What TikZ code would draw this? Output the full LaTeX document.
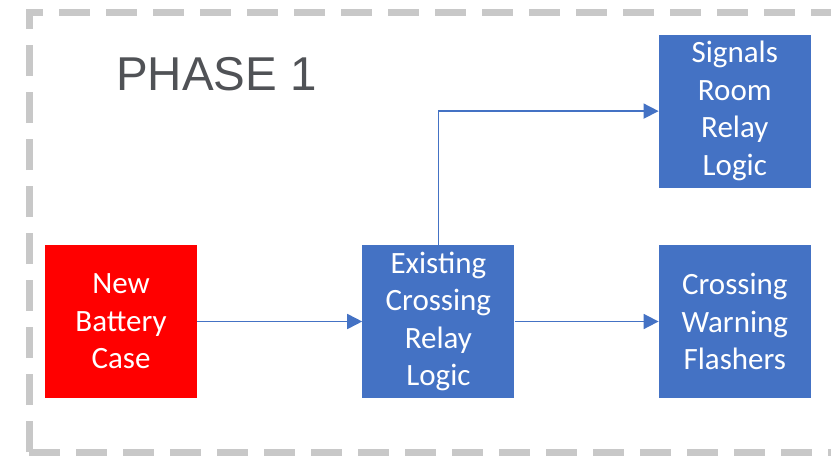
\documentclass[tikz,border=0pt]{standalone}
\usepackage{fontspec}
\setmainfont{Carlito}
\newfontfamily\phasefont{Liberation Sans}
\usepackage{xcolor}
\definecolor{relayblue}{RGB}{68,114,196}
\definecolor{batteryred}{RGB}{255,0,0}
\definecolor{phasegray}{RGB}{200,200,200}
\definecolor{phasetext}{RGB}{80,82,86}
\usetikzlibrary{arrows.meta, positioning}

\begin{document}
\begin{tikzpicture}[x=1pt, y=-1pt,
  logicbox/.style={rectangle, fill=relayblue, text=white, minimum width=152pt,
               minimum height=153pt, text width=140pt, align=center, inner sep=0pt,
               font=\fontsize{31}{37.5}\selectfont},
  arr/.style={-{Triangle[length=15pt,width=15pt]}, line width=1.7pt, relayblue}
]
\useasboundingbox (0,0) rectangle (831,461);
\clip (0,0) rectangle (831,461);
% phase frame
\draw[phasegray, line width=7pt, dash pattern=on 31pt off 16pt] (29,452) -- (29,12) -- (860,12);
\draw[phasegray, line width=7pt, dash pattern=on 31pt off 16pt] (29,452) -- (860,452);
\node[anchor=base west, inner sep=0pt, text=phasetext, font=\phasefont\fontsize{47.5}{47.5}\selectfont] (phase) at (116,90) {PHASE 1};

\node[logicbox, fill=batteryred] (battery) at (121,321.5) {New\\Battery\\Case};
\node[logicbox, right=165pt of battery] (existing) {Existing\\Crossing\\Relay\\Logic};
\node[logicbox, right=144pt of existing] (flashers) {Crossing\\Warning\\Flashers};
\node[logicbox, above=57pt of flashers] (signals) {Signals\\Room\\Relay\\Logic};

\draw[arr] (battery)--(existing);
\draw[arr] (existing)--(flashers);
\draw[arr] (existing.north) |- (signals.west);
\end{tikzpicture}
\end{document}
